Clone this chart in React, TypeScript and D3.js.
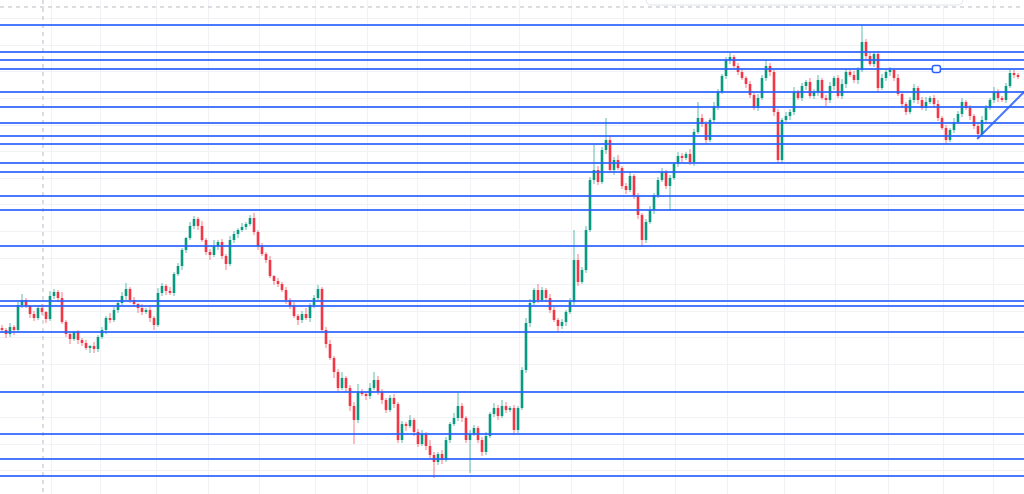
import { useEffect, useRef } from 'react'
import * as d3 from 'd3'

const W = 1024
const H = 494

// closing prices, one per bar (open = previous close)
const closes = [
  170, 166, 173, 170, 195, 200, 194, 186, 182, 192, 188, 181, 204, 208, 202, 178, 166, 161, 168, 160,
  157, 152, 154, 151, 163, 170, 182, 180, 190, 197, 204, 211, 200, 196, 192, 188, 190, 182, 175, 207,
  214, 209, 207, 226, 234, 250, 262, 274, 281, 274, 260, 248, 245, 254, 258, 244, 236, 260, 266, 270,
  273, 276, 282, 268, 254, 246, 240, 224, 219, 216, 210, 200, 194, 184, 180, 186, 182, 195, 202, 211,
  170, 156, 142, 128, 112, 122, 112, 94, 80, 108, 106, 104, 112, 120, 108, 100, 90, 102, 96, 60,
  76, 74, 80, 68, 56, 66, 54, 45, 38, 46, 40, 60, 76, 82, 94, 82, 60, 66, 72, 60,
  48, 64, 86, 92, 84, 94, 90, 92, 70, 92, 130, 177, 197, 210, 200, 210, 202, 190, 180, 174,
  178, 188, 198, 240, 218, 230, 270, 320, 330, 318, 350, 360, 330, 340, 332, 314, 310, 324, 304, 285,
  260, 278, 290, 305, 320, 328, 314, 322, 336, 344, 342, 346, 338, 368, 382, 376, 360, 380, 394, 408,
  424, 440, 443, 434, 428, 422, 416, 405, 392, 402, 422, 434, 428, 388, 340, 380, 384, 388, 408, 402,
  414, 418, 404, 408, 420, 402, 400, 414, 422, 404, 416, 428, 425, 420, 430, 458, 444, 436, 446, 412,
  422, 428, 430, 422, 406, 396, 388, 400, 412, 400, 392, 398, 402, 396, 382, 372, 360, 370, 378, 386,
  398, 392, 384, 374, 366, 380, 392, 400, 408, 402, 400, 414, 427, 425, 423,
]
const firstOpen = 172

// wick length above / below the body
const wickUp = [
  3, 2, 4, 2, 3, 6, 2, 1, 3, 2, 4, 1, 5, 3, 2, 6, 2, 3, 1, 2,
  2, 3, 1, 4, 2, 3, 2, 5, 3, 2, 4, 6, 2, 3, 1, 4, 2, 3, 2, 5,
  3, 2, 4, 2, 3, 2, 1, 4, 3, 2, 5, 2, 3, 6, 2, 3, 2, 4, 3, 2,
  4, 2, 3, 5, 2, 3, 2, 4, 1, 3, 2, 3, 2, 4, 2, 3, 6, 2, 3, 4,
  2, 3, 4, 2, 3, 6, 2, 3, 4, 8, 3, 2, 5, 8, 4, 3, 2, 3, 4, 2,
  3, 2, 5, 2, 3, 4, 2, 6, 3, 2, 4, 3, 2, 5, 13, 3, 2, 4, 3, 2,
  3, 4, 2, 5, 3, 6, 4, 2, 3, 2, 3, 5, 4, 2, 6, 3, 2, 4, 3, 2,
  3, 2, 4, 30, 6, 3, 4, 3, 25, 4, 3, 22, 4, 3, 5, 2, 3, 4, 2, 3,
  2, 3, 4, 2, 3, 4, 2, 3, 2, 4, 3, 2, 5, 3, 16, 4, 3, 2, 4, 3,
  2, 3, 4, 2, 3, 4, 2, 3, 2, 4, 3, 6, 3, 2, 3, 2, 4, 3, 5, 2,
  3, 2, 4, 3, 5, 2, 3, 4, 2, 3, 5, 3, 2, 4, 3, 17, 3, 4, 2, 3,
  4, 2, 3, 2, 4, 3, 2, 3, 4, 2, 3, 5, 2, 3, 4, 2, 3, 2, 4, 3,
  4, 2, 3, 2, 3, 4, 3, 2, 5, 3, 2, 3, 4, 3, 2,
]
const wickDn = [
  2, 4, 3, 5, 2, 3, 2, 4, 3, 2, 3, 4, 2, 3, 4, 2, 3, 5, 2, 4,
  3, 2, 5, 4, 3, 2, 4, 3, 2, 3, 2, 4, 3, 2, 5, 3, 2, 4, 5, 2,
  3, 4, 2, 3, 2, 4, 3, 2, 3, 4, 2, 3, 5, 2, 4, 3, 6, 2, 3, 4,
  2, 3, 2, 3, 4, 2, 3, 2, 4, 3, 2, 4, 3, 2, 5, 3, 2, 4, 3, 2,
  3, 4, 2, 6, 3, 2, 4, 5, 24, 3, 2, 4, 3, 2, 3, 4, 3, 2, 4, 3,
  3, 5, 2, 4, 3, 2, 4, 3, 16, 3, 4, 2, 3, 2, 3, 4, 3, 33, 2, 3,
  4, 3, 2, 3, 4, 2, 3, 2, 5, 3, 2, 3, 4, 2, 3, 2, 4, 3, 2, 5,
  3, 4, 2, 3, 4, 2, 3, 2, 4, 3, 2, 4, 3, 5, 2, 3, 4, 2, 3, 4,
  7, 3, 2, 4, 3, 2, 3, 25, 2, 3, 4, 2, 3, 4, 2, 3, 4, 2, 3, 4,
  2, 3, 4, 2, 3, 2, 4, 3, 2, 3, 2, 3, 4, 4, 3, 3, 2, 4, 3, 2,
  3, 4, 2, 3, 4, 2, 6, 3, 4, 2, 3, 4, 2, 3, 4, 2, 3, 2, 3, 4,
  2, 3, 4, 3, 2, 4, 3, 2, 3, 4, 2, 3, 2, 4, 3, 2, 4, 2, 3, 2,
  3, 2, 4, 3, 4, 2, 3, 2, 3, 4, 2, 3, 2, 3, 2,
]

// horizontal support / resistance levels
const levels = [475, 448, 440, 431, 408, 393, 377, 364, 356, 337, 328, 304, 290, 254, 199, 194, 168, 108, 66, 41, 24]

// time grid (bar index)
const timeTicks = [12.25, 24.5, 38.5, 51.5, 64.25, 78.25, 91.25, 103.75, 117, 129.25, 142.25, 155.25, 168.25, 181.25, 195.5, 208.25, 221.5, 235.25, 247.75]

// trend line: [bar index, price]
const trend = [[243.8, 361], [256, 410]]
const handle = [233.6, 431]
const crosshairBar = 10.25
const crosshairPrice = 493

export default function App() {
  const ref = useRef<SVGSVGElement | null>(null)

  useEffect(() => {
    if (!ref.current) return
    const svg = d3.select(ref.current)
    svg.selectAll('*').remove()

    const x = d3.scaleLinear().domain([0, 255]).range([2, 1022])
    const y = d3.scaleLinear().domain([6, 500]).range([H, 0])

    svg.append('rect').attr('width', W).attr('height', H).attr('fill', '#ffffff')

    // grid
    const grid = svg.append('g')
    d3.range(0, 19).map((k) => 3 + 26.6 * k).forEach((p) => {
      grid.append('line')
        .attr('x1', 0).attr('x2', W)
        .attr('y1', Math.round(y(p)) + 0.5).attr('y2', Math.round(y(p)) + 0.5)
        .attr('stroke', '#f0f2f5')
    })
    timeTicks.forEach((t) => {
      grid.append('line')
        .attr('x1', Math.round(x(t)) + 0.5).attr('x2', Math.round(x(t)) + 0.5)
        .attr('y1', 0).attr('y2', H)
        .attr('stroke', '#f0f2f5')
    })

    // candles
    const bars = closes.map((c, i) => {
      const o = i === 0 ? firstOpen : closes[i - 1]
      return { i, o, c, h: Math.max(o, c) + wickUp[i], l: Math.min(o, c) - wickDn[i] }
    })
    const up = '#089981'
    const down = '#f23645'
    const cg = svg.append('g')
    bars.forEach((b) => {
      const col = b.c >= b.o ? up : down
      const cx = x(b.i)
      cg.append('line')
        .attr('x1', cx).attr('x2', cx)
        .attr('y1', y(b.h)).attr('y2', y(b.l))
        .attr('stroke', col).attr('stroke-width', 1).attr('opacity', 0.65)
      const top = y(Math.max(b.o, b.c))
      cg.append('rect')
        .attr('x', cx - 1.3).attr('width', 2.6)
        .attr('y', top).attr('height', Math.max(1, y(Math.min(b.o, b.c)) - top))
        .attr('fill', col)
    })

    // crosshair
    svg.append('line')
      .attr('x1', 0).attr('x2', W)
      .attr('y1', y(crosshairPrice)).attr('y2', y(crosshairPrice))
      .attr('stroke', '#b8bbc2').attr('stroke-dasharray', '4 4')
    svg.append('line')
      .attr('x1', x(crosshairBar)).attr('x2', x(crosshairBar))
      .attr('y1', 0).attr('y2', H)
      .attr('stroke', '#b8bbc2').attr('stroke-dasharray', '4 4')

    // level lines
    const lg = svg.append('g')
    levels.forEach((p) => {
      lg.append('line')
        .attr('x1', 0).attr('x2', W)
        .attr('y1', y(p)).attr('y2', y(p))
        .attr('stroke', '#2962ff').attr('stroke-width', 2).attr('opacity', 0.85)
    })

    // trend line
    svg.append('line')
      .attr('x1', x(trend[0][0])).attr('y1', y(trend[0][1]))
      .attr('x2', x(trend[1][0])).attr('y2', y(trend[1][1]))
      .attr('stroke', '#2962ff').attr('stroke-width', 2).attr('opacity', 0.85)

    svg.append('rect')
      .attr('x', x(handle[0]) - 4).attr('y', y(handle[1]) - 3.5)
      .attr('width', 8).attr('height', 7).attr('rx', 2)
      .attr('fill', '#ffffff').attr('stroke', '#2962ff').attr('stroke-width', 1.5)

    // floating panel cut at top
    svg.append('rect')
      .attr('x', 646).attr('y', -12).attr('width', 317).attr('height', 17).attr('rx', 5)
      .attr('fill', '#ffffff').attr('stroke', '#e3e5ea')
  }, [])

  return (
    <svg
      ref={ref}
      width={W}
      height={H}
      style={{ position: 'absolute', left: 0, top: 0, display: 'block' }}
    />
  )
}
